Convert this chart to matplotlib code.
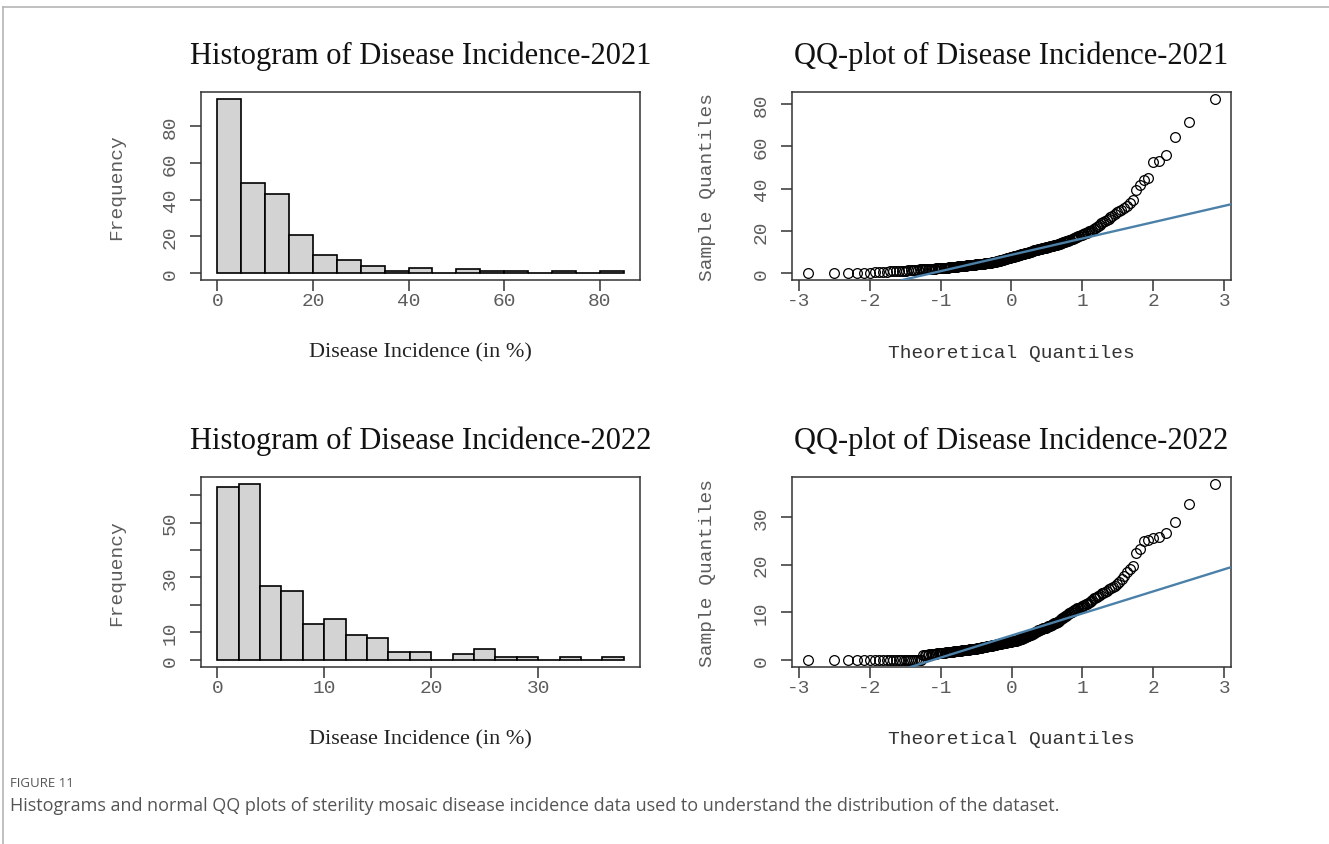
import matplotlib
matplotlib.use('Agg')
import matplotlib.pyplot as plt
import numpy as np
from statistics import NormalDist
from matplotlib.lines import Line2D

plt.rcParams['axes.unicode_minus'] = False

W, H = 1329, 845

# histogram bins and counts
breaks21 = [0, 5, 10, 15, 20, 25, 30, 35, 40, 45, 50, 55, 60, 65, 70, 75, 80, 85]
counts21 = [95, 49, 43, 21, 10, 7, 4, 1, 3, 0, 2, 1, 1, 0, 1, 0, 1]

breaks22 = [0, 2, 4, 6, 8, 10, 12, 14, 16, 18, 20, 22, 24, 26, 28, 30, 32, 34, 36, 38]
counts22 = [63, 64, 27, 25, 13, 15, 9, 8, 3, 3, 0, 2, 4, 1, 1, 0, 1, 0, 1]

# sorted sample values
sample21 = [
    0, 0, 0, 0, 0, 0,
    0.4, 0.5, 0.6, 0.7, 0.8, 0.9, 1.0, 1.0, 1.1, 1.2, 1.2, 1.3, 1.4, 1.5,
    1.5, 1.6, 1.6, 1.7, 1.7, 1.8, 1.8, 1.9, 1.9, 2.0, 2.0, 2.0, 2.1, 2.1, 2.2,
    2.2, 2.2, 2.3, 2.3, 2.4, 2.4, 2.5, 2.5, 2.6, 2.6,
    2.7, 2.7, 2.8, 2.8, 2.9, 2.9, 3.0, 3.0, 3.1, 3.1, 3.2, 3.2, 3.3, 3.3, 3.4,
    3.4, 3.5, 3.5, 3.6, 3.6, 3.7, 3.7, 3.8, 3.8, 3.9,
    3.9, 4.0, 4.0, 4.1, 4.1, 4.2, 4.2, 4.3, 4.3, 4.4, 4.4, 4.5, 4.5, 4.5, 4.6,
    4.6, 4.6, 4.7, 4.7, 4.8, 4.8, 4.9, 4.9, 5.0, 5.0,
    5.1, 5.2, 5.3, 5.4, 5.5, 5.6, 5.7, 5.8, 5.9, 6.0, 6.1, 6.2, 6.3, 6.4, 6.5,
    6.6, 6.7, 6.8, 6.9, 7.0, 7.1, 7.2, 7.3, 7.4, 7.5, 7.6, 7.7, 7.8, 7.9, 8.0,
    8.1, 8.2, 8.3, 8.4, 8.5, 8.6, 8.7, 8.8, 8.9, 9.0, 9.1, 9.2, 9.3, 9.4, 9.5,
    9.6, 9.7, 9.8, 10.0,
    10.1, 10.2, 10.3, 10.5, 10.6, 10.7, 10.8, 10.9, 11.0, 11.1, 11.2, 11.3,
    11.4, 11.5, 11.6, 11.7, 11.8, 11.9, 12.0, 12.1, 12.2, 12.3, 12.4, 12.5,
    12.6, 12.7, 12.8, 12.9, 13.0, 13.2, 13.3, 13.4, 13.5, 13.7, 13.8, 13.9,
    14.0, 14.2, 14.4, 14.5, 14.7, 14.8, 15.0,
    15.2, 15.4, 15.6, 15.8, 16.0, 16.3, 16.5, 16.8, 17.0, 17.2, 17.5, 17.7,
    18.0, 18.2, 18.5, 18.7, 19.0, 19.2, 19.5, 19.7, 20.0,
    20.5, 21.0, 21.5, 22.0, 22.5, 23.0, 23.5, 24.0, 24.5, 25.0,
    25.7, 26.5, 27.2, 28.0, 28.7, 29.3, 30.0,
    31.0, 32.0, 33.0, 34.5, 39.5, 41.5, 44.0, 45.0, 52.5, 53.0,
    56.0, 64.5, 71.5, 82.5,
]

sample22 = [
    0, 0, 0, 0, 0, 0, 0, 0, 0, 0, 0, 0, 0, 0, 0, 0, 0, 0, 0, 0, 0, 0, 0, 0, 0,
    1.0, 1.0, 1.1, 1.1, 1.2, 1.2, 1.2, 1.3, 1.3, 1.3, 1.4, 1.4, 1.4, 1.5, 1.5,
    1.5, 1.5, 1.6, 1.6, 1.6, 1.6, 1.7, 1.7, 1.7, 1.7, 1.8, 1.8, 1.8, 1.8, 1.9,
    1.9, 1.9, 1.9, 2.0, 2.0, 2.0, 2.0, 2.0,
    2.1, 2.1, 2.1, 2.2, 2.2, 2.2, 2.3, 2.3, 2.3, 2.4, 2.4, 2.4, 2.5, 2.5, 2.5,
    2.6, 2.6, 2.6, 2.7, 2.7, 2.7, 2.8, 2.8, 2.8, 2.9, 2.9, 2.9, 3.0, 3.0, 3.0,
    3.0, 3.1, 3.1, 3.1, 3.2, 3.2, 3.2, 3.3, 3.3, 3.3, 3.4, 3.4, 3.4, 3.5, 3.5,
    3.5, 3.5, 3.6, 3.6, 3.6, 3.7, 3.7, 3.7, 3.8, 3.8, 3.8, 3.8, 3.9, 3.9, 3.9,
    4.0, 4.0, 4.0, 4.0,
    4.1, 4.2, 4.2, 4.3, 4.4, 4.4, 4.5, 4.6, 4.6, 4.7, 4.8, 4.8, 4.9, 5.0, 5.0,
    5.1, 5.2, 5.2, 5.3, 5.4, 5.5, 5.5, 5.6, 5.7, 5.8, 5.9, 6.0,
    6.1, 6.2, 6.2, 6.3, 6.4, 6.5, 6.5, 6.6, 6.7, 6.8, 6.8, 6.9, 7.0, 7.1, 7.2,
    7.2, 7.3, 7.4, 7.5, 7.6, 7.7, 7.8, 7.8, 7.9, 8.0,
    8.2, 8.4, 8.5, 8.7, 8.9, 9.0, 9.2, 9.3, 9.5, 9.6, 9.8, 9.9, 10.0,
    10.1, 10.2, 10.4, 10.5, 10.6, 10.8, 10.9, 11.0, 11.2, 11.3, 11.4, 11.6,
    11.7, 11.8, 12.0,
    12.2, 12.4, 12.6, 12.9, 13.1, 13.3, 13.5, 13.7, 14.0,
    14.1, 14.3, 14.5, 14.8, 15.0, 15.3, 15.5, 15.9,
    16.3, 17.0, 17.6, 18.4, 19.0, 19.7, 22.5, 23.2,
    24.9, 25.2, 25.6, 25.7, 26.7, 29.0, 32.8, 36.9,
]

hist_xticks21 = [0, 20, 40, 60, 80]
hist_yticks21 = [0, 20, 40, 60, 80]
hist_xticks22 = [0, 10, 20, 30]
hist_yticks22 = [0, 10, 20, 30, 40, 50, 60]
hist_ylabels22 = ['0', '10', '', '30', '', '50', '']
qq_xticks = [-3, -2, -1, 0, 1, 2, 3]
qq_yticks21 = [0, 20, 40, 60, 80]
qq_yticks22 = [0, 10, 20, 30]

SERIF = 'Liberation Serif'
MONO = 'Liberation Mono'
GREY = '#5c5c5c'
LINE_BLUE = '#4b80a9'


def px_axes(left, top, right, bottom):
    return fig.add_axes([left / W, 1 - bottom / H, (right - left) / W, (bottom - top) / H])


def style(ax, title, xlabel, ylabel, xlabel_font, box_h):
    for s in ax.spines.values():
        s.set_color('#333333')
        s.set_linewidth(1.1)
    ax.tick_params(axis='both', direction='out', length=8, width=1.1, color='#333333',
                   labelcolor=GREY, labelsize=14)
    ax.tick_params(axis='x', pad=7)
    ax.tick_params(axis='y', pad=8, labelrotation=90)
    for lab in ax.get_xticklabels() + ax.get_yticklabels():
        lab.set_fontfamily(MONO)
        lab.set_verticalalignment('center')
    ax.text(0.5, 1 + 37 / box_h, title, transform=ax.transAxes, ha='center', va='center',
            fontsize=22, family=SERIF, color='#111111')
    if xlabel_font == SERIF:
        ax.text(0.5, -72 / box_h, xlabel, transform=ax.transAxes, ha='center', va='center',
                fontsize=16, family=SERIF, color='#222222')
    else:
        ax.text(0.5, -72 / box_h, xlabel, transform=ax.transAxes, ha='center', va='center',
                fontsize=14, family=MONO, color='#333333')
    ax.text(-84 / 439, 0.5, ylabel, transform=ax.transAxes, ha='center', va='center',
            rotation=90, fontsize=14, family=MONO, color=GREY)


def hist_panel(ax, breaks, counts, xticks, yticks, ylabels=None):
    edges = np.asarray(breaks, dtype=float)
    ax.bar(edges[:-1], counts, width=np.diff(edges), align='edge', color='#d3d3d3',
           edgecolor='black', linewidth=1.2)
    xr = edges[-1] - edges[0]
    ax.set_xlim(edges[0] - 0.04 * xr, edges[-1] + 0.04 * xr)
    ym = max(counts)
    ax.set_ylim(-0.04 * ym, ym * 1.04)
    ax.set_xticks(xticks)
    ax.set_yticks(yticks)
    if ylabels is not None:
        ax.set_yticklabels(ylabels)


def qq_panel(ax, sample, yticks):
    y = np.sort(np.asarray(sample, dtype=float))
    n = len(y)
    nd = NormalDist()
    x = np.array([nd.inv_cdf((i - 0.5) / n) for i in range(1, n + 1)])
    ax.plot(x, y, 'o', mfc='none', mec='black', ms=7, mew=0.9, zorder=2)
    q1, q3 = np.quantile(y, [0.25, 0.75])
    z1, z3 = nd.inv_cdf(0.25), nd.inv_cdf(0.75)
    ax.axline((z1, q1), slope=(q3 - q1) / (z3 - z1), color=LINE_BLUE, lw=1.7, zorder=3)
    xr = x.max() - x.min()
    ax.set_xlim(x.min() - 0.04 * xr, x.max() + 0.04 * xr)
    yr = y.max() - y.min()
    ax.set_ylim(y.min() - 0.04 * yr, y.max() + 0.04 * yr)
    ax.set_xticks(qq_xticks)
    ax.set_yticks(yticks)


fig = plt.figure(figsize=(W / 100, H / 100), dpi=100)

ax1 = px_axes(201, 93, 640, 281)
hist_panel(ax1, breaks21, counts21, hist_xticks21, hist_yticks21)
style(ax1, 'Histogram of Disease Incidence-2021', 'Disease Incidence (in %)', 'Frequency', SERIF, 188)

ax2 = px_axes(792, 93, 1231, 281)
qq_panel(ax2, sample21, qq_yticks21)
style(ax2, 'QQ-plot of Disease Incidence-2021', 'Theoretical Quantiles', 'Sample Quantiles', MONO, 188)

ax3 = px_axes(201, 478, 640, 668)
hist_panel(ax3, breaks22, counts22, hist_xticks22, hist_yticks22, hist_ylabels22)
style(ax3, 'Histogram of Disease Incidence-2022', 'Disease Incidence (in %)', 'Frequency', SERIF, 190)

ax4 = px_axes(792, 478, 1231, 668)
qq_panel(ax4, sample22, qq_yticks22)
style(ax4, 'QQ-plot of Disease Incidence-2022', 'Theoretical Quantiles', 'Sample Quantiles', MONO, 190)

# page frame lines
fig.add_artist(Line2D([3 / W, 1], [1 - 8 / H, 1 - 8 / H], color='#b5b5b5', lw=1.2))
fig.add_artist(Line2D([3 / W, 3 / W], [0, 1 - 8 / H], color='#b5b5b5', lw=1.2))

fig.text(10 / W, 1 - 784 / H, 'FIGURE 11', fontsize=9.5, family='Open Sans', color='#555555',
         va='center')
fig.text(10 / W, 1 - 806 / H,
         'Histograms and normal QQ plots of sterility mosaic disease incidence data used to '
         'understand the distribution of the dataset.',
         fontsize=13, family='Open Sans', color='#555555', va='center')

fig.savefig('out.png', dpi=100)
